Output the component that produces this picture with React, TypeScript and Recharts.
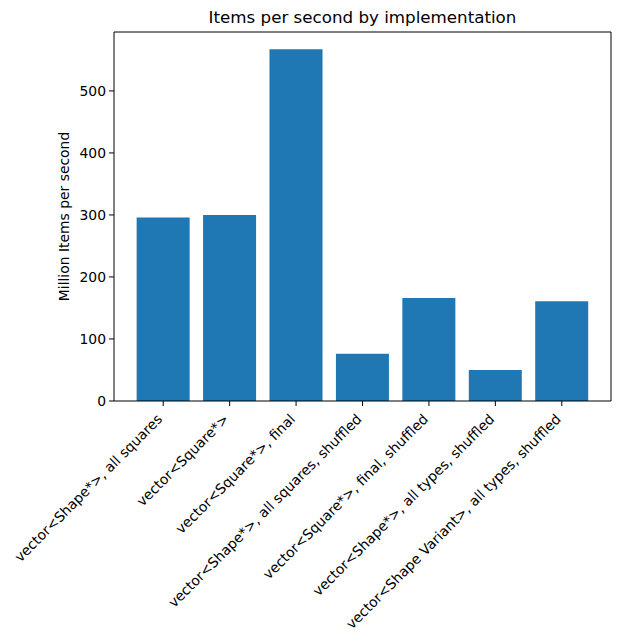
import { BarChart, Bar, XAxis, YAxis } from "recharts";

// Benchmark results
const implementations = [
    "vector<Shape*>, all squares",
    "vector<Square*>",
    "vector<Square*>, final",
    "vector<Shape*>, all squares, shuffled",
    "vector<Square*>, final, shuffled",
    "vector<Shape*>, all types, shuffled",
    "vector<Shape Variant>, all types, shuffled",
];
const millionItemsPerSecond = [296, 300, 567, 76, 166, 50, 161];
const yTicks = [0, 100, 200, 300, 400, 500];

const FONT = "DejaVu Sans, sans-serif";

const chartData = implementations.map((name, i) => ({
    name,
    value: millionItemsPerSecond[i],
}));

function RotatedTick(props: any) {
    const { x, y, payload } = props;
    const ax = x;
    const ay = y + 11;
    return (
        <text
            x={ax}
            y={ay}
            transform={`rotate(-45, ${ax}, ${ay})`}
            textAnchor="end"
            fontSize={13.9}
            fontFamily={FONT}
            fill="#000"
        >
            {payload.value}
        </text>
    );
}

function YLabel(props: any) {
    const { viewBox } = props;
    const cy = viewBox.y + viewBox.height / 2;
    return (
        <text
            x={69}
            y={cy}
            transform={`rotate(-90, 69, ${cy})`}
            textAnchor="middle"
            fontSize={13.9}
            fontFamily={FONT}
            fill="#000"
        >
            Million Items per second
        </text>
    );
}

export default function App() {
    return (
        <div style={{ position: "absolute", left: 0, top: 0, width: 619, height: 641, background: "#fff" }}>
            <div
                style={{
                    position: "absolute",
                    left: 114,
                    width: 497,
                    top: 7,
                    textAlign: "center",
                    fontFamily: FONT,
                    fontSize: 16.7,
                    color: "#000",
                }}
            >
                Items per second by implementation
            </div>
            <BarChart
                width={619}
                height={641}
                data={chartData}
                margin={{ top: 31, right: 7, left: 0, bottom: 0 }}
                barCategoryGap="10%"
            >
                <XAxis
                    dataKey="name"
                    height={240}
                    interval={0}
                    padding={{ left: 16, right: 16 }}
                    tick={<RotatedTick />}
                    tickSize={5}
                    tickMargin={3}
                    stroke="#000"
                />
                <XAxis
                    xAxisId="top"
                    orientation="top"
                    dataKey="name"
                    height={1}
                    tick={false}
                    tickLine={false}
                    stroke="#000"
                />
                <YAxis
                    width={114}
                    domain={[0, 595]}
                    ticks={yTicks}
                    tickSize={5}
                    tickMargin={3}
                    stroke="#000"
                    tick={{ fontSize: 13.9, fontFamily: FONT, fill: "#000" }}
                    label={<YLabel />}
                />
                <YAxis
                    yAxisId="right"
                    orientation="right"
                    domain={[0, 595]}
                    width={1}
                    tick={false}
                    tickLine={false}
                    stroke="#000"
                />
                <Bar dataKey="value" fill="#1f77b4" isAnimationActive={false} />
            </BarChart>
        </div>
    );
}
